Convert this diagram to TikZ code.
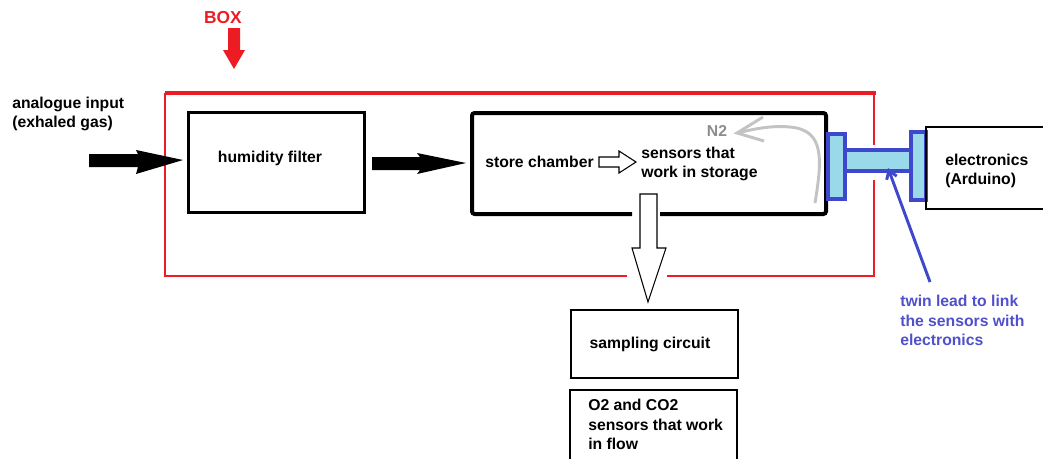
\documentclass[tikz,border=0pt]{standalone}
\usepackage{fontspec}
\setmainfont{Liberation Sans}
\usetikzlibrary{arrows.meta}
\definecolor{pred}{HTML}{ED1C24}
\definecolor{pblue}{HTML}{3F48CC}
\definecolor{plblue}{HTML}{99D9EA}
\definecolor{pgray}{HTML}{C3C3C3}
\definecolor{ptblue}{HTML}{5050CC}
\begin{document}
\begin{tikzpicture}[x=0.75pt,y=-0.75pt,
  txt/.style={font=\fontsize{11.8}{14.6}\selectfont\bfseries, inner sep=0pt, align=left},
  thickbox/.style={draw=black, line width=2.4pt, inner sep=0pt},
  thinbox/.style={draw=black, line width=1pt, inner sep=0pt},
  conn/.style={draw=pblue, fill=plblue, line width=2.7pt, inner sep=0pt},
  ]
\useasboundingbox (0,0) rectangle (1043,458);
% BOX label and red arrow
\node[txt, text=pred, font=\fontsize{13}{15}\selectfont\bfseries] (boxlbl) at (223,18) {BOX};
\fill[pred] (228,28) -- (240,28) -- (240,50) -- (245,50) -- (234,69) -- (223,50) -- (228,50) -- cycle;
% red box
\draw[pred, line width=3pt] (165,93) -- (876,93);
\draw[pred, line width=0.8pt] (165,93) -- (165,276) -- (627,276);
\draw[pred, line width=0.8pt] (667,276) -- (874,276);
\draw[pred, line width=2.2pt] (874,93) -- (874,145);
\draw[pred, line width=2.2pt] (874,180) -- (874,277);
% analogue input
\node[txt, anchor=west] (ain) at (12,114) {analogue input\\(exhaled gas)};
% humidity filter
\node[thickbox, minimum width=132pt, minimum height=75pt] (hf) at (276.5,162.5) {};
\node[txt] (hft) at (270,158) {humidity filter};
% black arrows
\fill[black] (89,154) -- (138,154) -- (136,150) -- (183,160) -- (136,174) -- (138,167) -- (89,167) -- cycle;
\fill[black] (372,157) -- (420,157) -- (417,153) -- (466,163) -- (417,174) -- (420,170) -- (372,170) -- cycle;
% store chamber
\draw[black, line width=3pt, rounded corners=2pt] (632,214) -- (472,214) -- (472,113) -- (826,113) -- (826,214) -- (660,214);
\node[txt, anchor=west] (sc) at (485,162) {store chamber};
\draw[black, line width=0.8pt, fill=white] (599,157) -- (619,157) -- (619,151) -- (636,162) -- (619,173) -- (619,167) -- (599,167) -- cycle;
\node[txt, anchor=west] (sens) at (641,164) {sensors that\\work in storage};
% N2 and grey arrow
\node[txt, text=gray!90] (n2) at (717,131) {N2};
\draw[pgray, line width=2.2pt] (815,203) .. controls (822,160) and (825,130) .. (790,127) .. controls (770,125) and (750,130) .. (737,133);
\draw[pgray, line width=2.2pt] (763,117) -- (737,133) -- (764,141);
% connectors
\node[conn, minimum width=50.25pt, minimum height=15.75pt] (bar) at (878.5,160.5) {};
\node[conn, minimum width=12.75pt, minimum height=48.75pt] (cl) at (836.5,166.5) {};
\node[conn, minimum width=11.25pt, minimum height=51pt] (cr) at (918.5,166) {};
% electronics
\draw[black, line width=2.2pt] (1045,127) -- (926,127) -- (926,209) -- (1045,209);
\node[txt, anchor=west] (el) at (945,171) {electronics\\(Arduino)};
% twin lead arrow
\coordinate (tl) at (930,282);
\coordinate (tip) at (888,168);
\draw[pblue, line width=2.2pt, -{Straight Barb[length=6pt,width=8pt]}] (tl) -- (tip);
\node[txt, text=ptblue, anchor=north west] (tw) at (900,295) {twin lead to link\\the sensors with\\electronics};
% white down arrow
\draw[black, line width=0.8pt, fill=white] (640,194) -- (657,194) -- (657,248) -- (666,248) -- (648,302) -- (632,248) -- (640,248) -- cycle;
% sampling circuit
\node[thinbox, minimum width=125.25pt, minimum height=51pt] (samp) at (654.5,344) {};
\node[txt] (sampt) at (650,344) {sampling circuit};
% O2 box
\draw[black, line width=1pt] (570,460) -- (570,390) -- (737,390) -- (737,460);
\node[txt, anchor=north west] (o2) at (588,399) {O2 and CO2\\sensors that work\\in flow};
\end{tikzpicture}
\end{document}
